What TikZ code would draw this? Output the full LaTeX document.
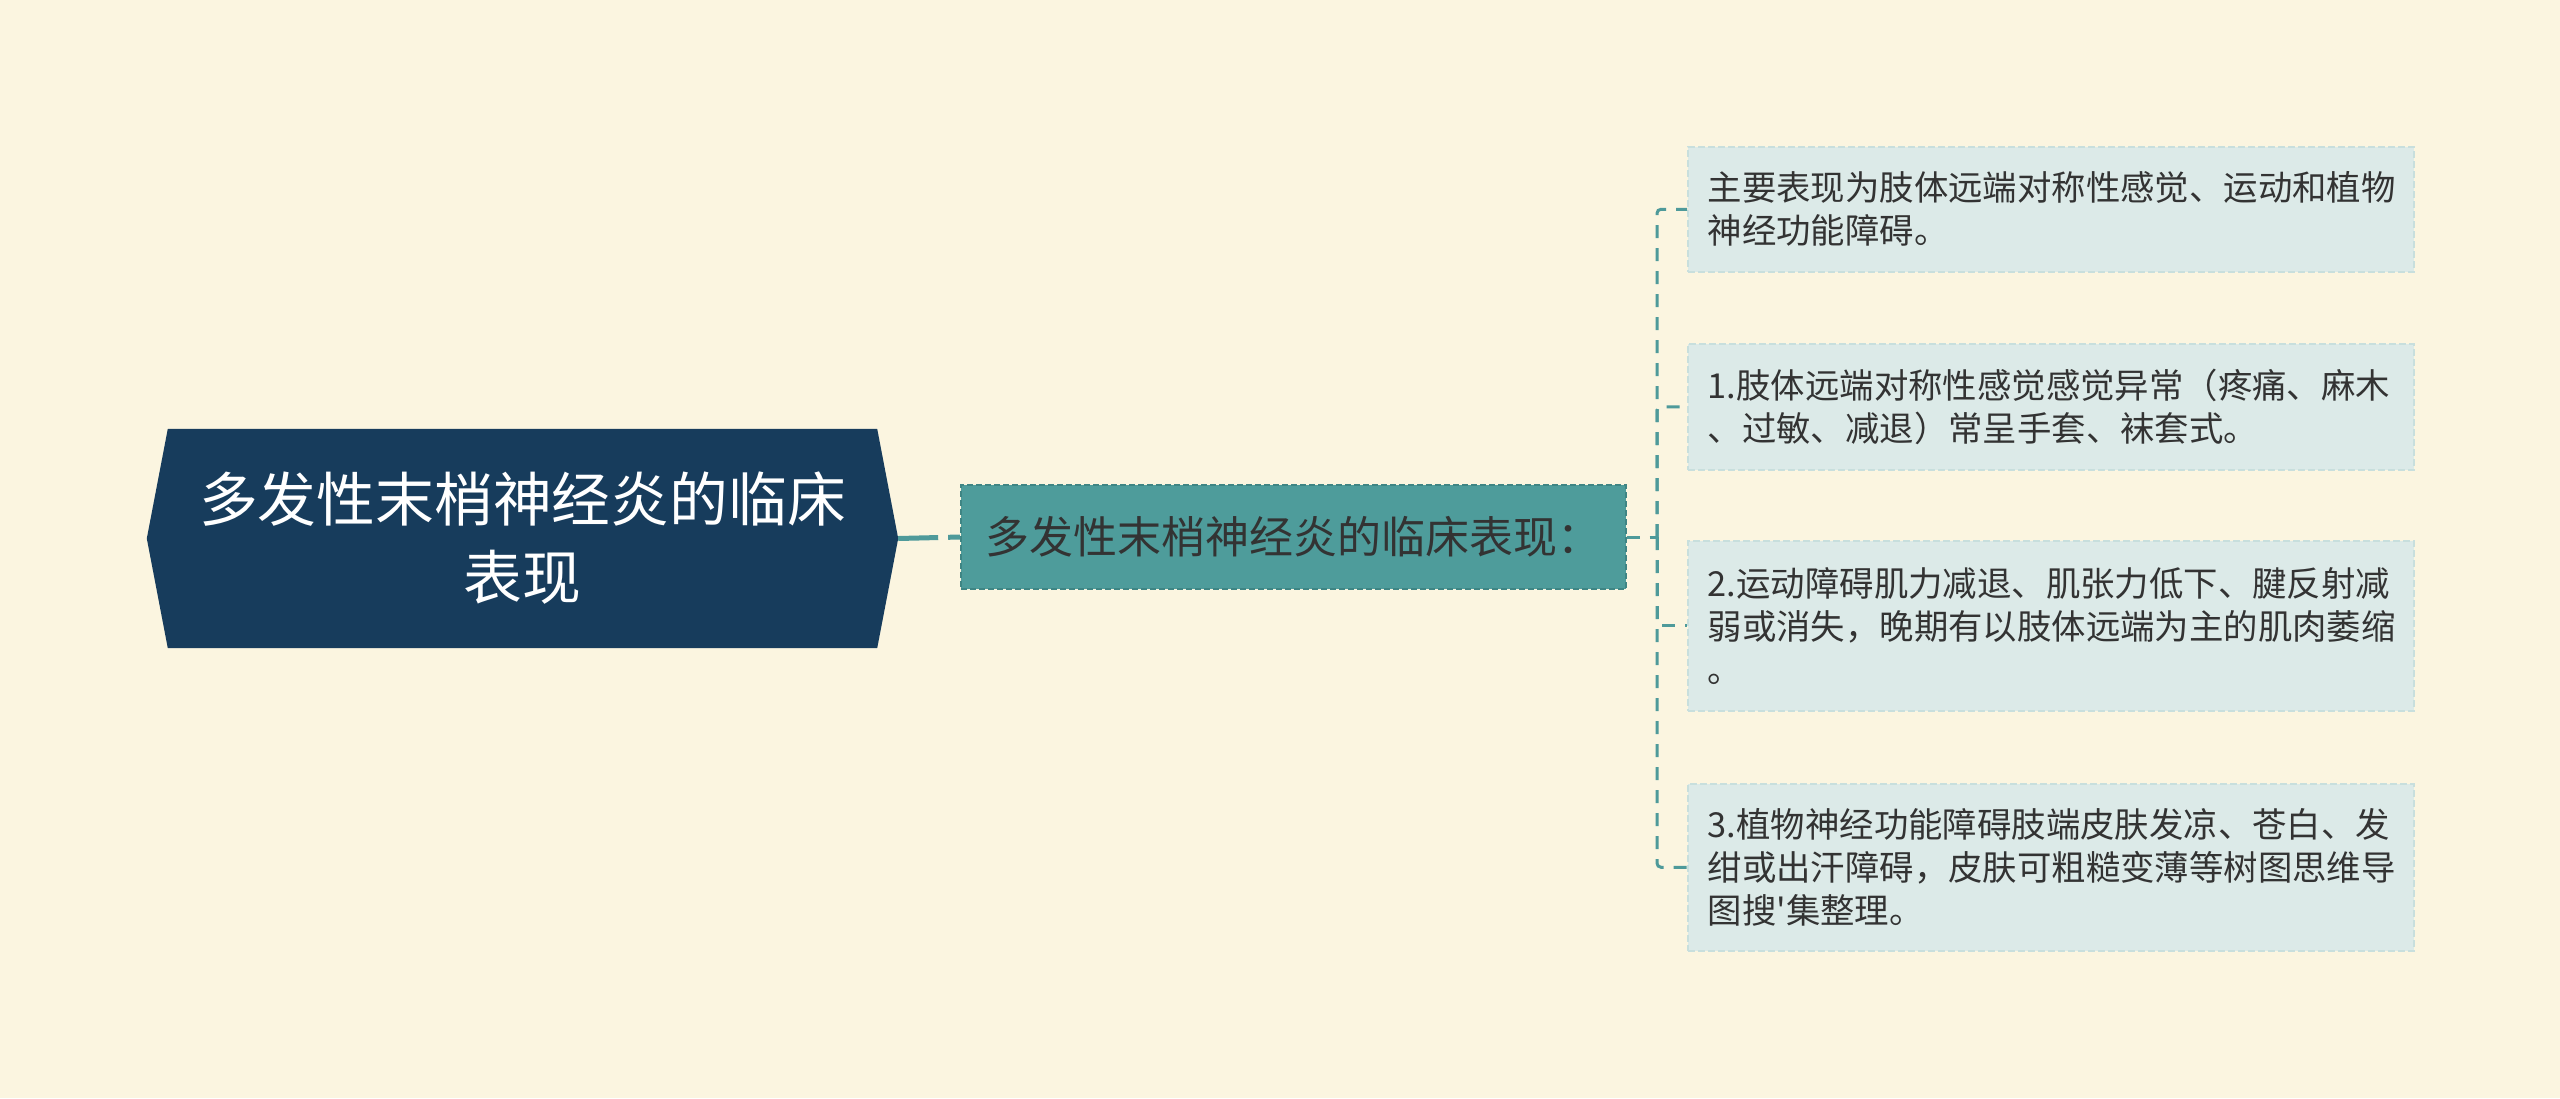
\documentclass[tikz,border=0pt]{standalone}
\usepackage{fontspec}
\newfontfamily\cjk{Noto Sans CJK SC}
\definecolor{bg}{HTML}{FBF5E0}
\definecolor{navy}{HTML}{173C5C}
\definecolor{tealfill}{HTML}{4E9C9B}
\definecolor{tealdark}{HTML}{3F8584}
\definecolor{leaffill}{HTML}{DCEAE8}
\definecolor{leafline}{HTML}{C8DFDD}
\definecolor{txt}{HTML}{333333}
\definecolor{conn}{HTML}{4E9A9A}
\begin{document}
\begin{tikzpicture}[x=1pt,y=-1pt]
\tikzset{
  rootbox/.style={minimum width=709pt, minimum height=219pt, inner sep=0pt, align=center,
    text=white, font=\cjk\fontsize{58.8}{78}\selectfont},
  midbox/.style={fill=tealfill, draw=tealdark, dash pattern=on 6pt off 3pt, line width=1.5pt,
    minimum width=665pt, minimum height=104pt, inner xsep=21pt, text=txt,
    font=\cjk\fontsize{44}{54}\selectfont, anchor=west},
  leafbox/.style={fill=leaffill, draw=leafline, dash pattern=on 7pt off 3pt, line width=1.5pt,
    text width=686pt, inner xsep=20pt, inner ysep=0pt, align=left, anchor=north west,
    text=txt, font=\cjk\fontsize{34.4}{43}\selectfont},
  rootlink/.style={draw=conn, line width=5pt, dash pattern=on 40pt off 10pt},
  branch/.style={draw=conn, line width=3pt, dash pattern=on 13pt off 10pt, rounded corners=4pt}
}
\fill[bg] (0,0) rectangle (2560,1098);
\useasboundingbox (0,0) rectangle (2560,1098);

% root
\node[rootbox] (root) at (522.5,538.5) {};
\fill[navy] (root.north west) -- (root.north east) -- ([xshift=21pt]root.east)
  -- (root.south east) -- (root.south west) -- ([xshift=-21pt]root.west) -- cycle;
\node[rootbox] (roottext) at (root.center) {多发性末梢神经炎的临床\\表现};
\coordinate (tip) at ([xshift=21pt]root.east);

% middle
\node[midbox] (mid) at (960,537) {多发性末梢神经炎的临床表现：};

% leaves
\node[leafbox, minimum height=125pt] (l1) at (1687,146)
  {主要表现为肢体远端对称性感觉、运动和植物\\神经功能障碍。};
\node[leafbox, minimum height=126pt] (l2) at (1687,343)
  {1.肢体远端对称性感觉感觉异常（疼痛、麻木\\、过敏、减退）常呈手套、袜套式。};
\node[leafbox, minimum height=170pt] (l3) at (1687,540)
  {2.运动障碍肌力减退、肌张力低下、腱反射减\\弱或消失，晚期有以肢体远端为主的肌肉萎缩\\。};
\node[leafbox, minimum height=167pt] (l4) at (1687,783)
  {3.植物神经功能障碍肢端皮肤发凉、苍白、发\\绀或出汗障碍，皮肤可粗糙变薄等树图思维导\\图搜'集整理。};

% connectors
\draw[rootlink] (tip) -- (mid.west);
\coordinate (fork) at (1657,537);
\draw[branch] (mid.east) -- (fork);
\foreach \n in {l1,l2,l3,l4}
  \draw[branch] (fork) |- (\n.west);
\end{tikzpicture}
\end{document}
